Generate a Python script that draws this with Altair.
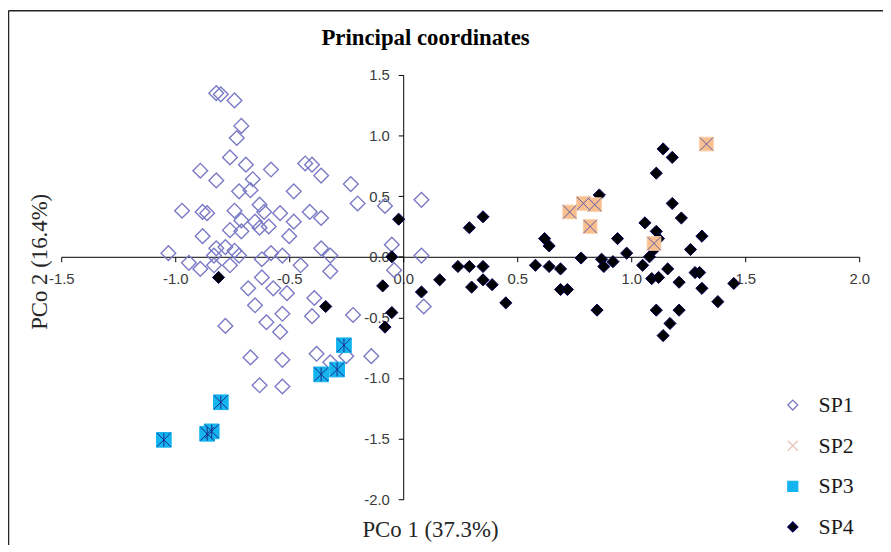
import altair as alt
import pandas as pd

# ---------------- data ----------------
SERIES = ["SP1", "SP2", "SP3", "SP4"]

SP1_X = [-0.82, -0.80, -0.74, -0.71, -0.73, -0.76, -0.69, -0.89, -0.82, -0.58,
         -0.66, -0.72, -0.67, -0.43, -0.40, -0.36, -0.48, -0.23, -0.97, -0.88,
         -0.86, -0.74, -0.71, -0.63, -0.61, -0.54, -0.76, -0.71, -0.65, -0.63,
         -0.59, -0.48, -0.50, -0.88, -0.41, -0.36, -0.36, -0.32, -1.03, -0.82,
         -0.78, -0.74, -0.83, -0.72, -0.94, -0.89, -0.83, -0.76, -0.62, -0.58,
         -0.53, -0.62, -0.68, -0.57, -0.51, -0.65, -0.53, -0.60, -0.78, -0.54,
         -0.39, -0.40, -0.22, -0.32, -0.45, -0.67, -0.53, -0.38, -0.32, -0.25,
         -0.14, -0.63, -0.53, -0.05, 0.08, 0.08, 0.09, -0.08, -0.20, -0.04]
SP1_Y = [1.35, 1.34, 1.29, 1.08, 0.98, 0.82, 0.76, 0.71, 0.63, 0.72,
         0.64, 0.54, 0.55, 0.77, 0.76, 0.67, 0.54, 0.60, 0.38, 0.37,
         0.36, 0.38, 0.30, 0.43, 0.37, 0.36, 0.22, 0.21, 0.29, 0.24,
         0.25, 0.29, 0.17, 0.17, 0.37, 0.32, 0.07, 0.01, 0.03, 0.07,
         0.08, 0.05, 0.01, 0.01, -0.05, -0.10, -0.07, -0.07, -0.02, 0.03,
         0.01, -0.17, -0.26, -0.26, -0.30, -0.40, -0.47, -0.54, -0.57, -0.62,
         -0.34, -0.49, -0.48, -0.12, -0.07, -0.83, -0.85, -0.80, -0.87, -0.82,
         -0.82, -1.06, -1.07, 0.10, 0.01, 0.47, -0.41, 0.42, 0.44, -0.11]

SP2_X = [0.73, 0.79, 0.84, 0.82, 1.10, 1.33]
SP2_Y = [0.37, 0.44, 0.43, 0.25, 0.11, 0.93]

SP3_X = [-1.05, -0.86, -0.84, -0.80, -0.36, -0.29, -0.26]
SP3_Y = [-1.51, -1.46, -1.44, -1.20, -0.97, -0.93, -0.73]

SP4_X = [-0.81, -0.34, -0.02, -0.05, -0.09, -0.05, -0.08, 0.08, 0.16, 0.24,
         0.29, 0.35, 0.30, 0.35, 0.39, 0.45, 0.29, 0.35, 0.58, 0.62,
         0.64, 0.64, 0.69, 0.69, 0.72, 0.78, 0.86, 0.87, 0.88, 0.85,
         0.92, 0.94, 0.98, 1.05, 1.06, 1.08, 1.11, 1.14, 1.18, 1.11,
         1.12, 1.10, 1.09, 1.12, 1.16, 1.18, 1.22, 1.21, 1.11, 1.21,
         1.17, 1.14, 1.26, 1.31, 1.28, 1.30, 1.31, 1.38, 1.45]
SP4_Y = [-0.17, -0.41, 0.31, 0.00, -0.24, -0.46, -0.58, -0.29, -0.19, -0.08,
         -0.08, -0.08, -0.25, -0.19, -0.23, -0.38, 0.24, 0.33, -0.07, 0.15,
         0.09, -0.08, -0.10, -0.27, -0.27, -0.01, 0.51, -0.02, -0.08, -0.44,
         -0.04, 0.15, 0.03, -0.07, 0.28, 0.00, 0.69, 0.89, 0.82, 0.21,
         0.15, 0.06, -0.18, -0.17, -0.10, 0.44, 0.32, -0.21, -0.44, -0.44,
         -0.55, -0.65, 0.06, 0.17, -0.13, -0.13, -0.26, -0.37, -0.22]

X_TICKS = [-1.5, -1.0, -0.5, 0.0, 0.5, 1.0, 1.5, 2.0]
Y_TICKS = [-2.0, -1.5, -1.0, -0.5, 0.0, 0.5, 1.0, 1.5]

TITLE = "Principal coordinates"
X_TITLE = "PCo 1 (37.3%)"
Y_TITLE = "PCo 2 (16.4%)"

assert len(SP1_X) == len(SP1_Y)
assert len(SP2_X) == len(SP2_Y)
assert len(SP3_X) == len(SP3_Y)
assert len(SP4_X) == len(SP4_Y)

rows = []
for name, xs_, ys_ in zip(SERIES, [SP1_X, SP2_X, SP3_X, SP4_X], [SP1_Y, SP2_Y, SP3_Y, SP4_Y]):
    for xv, yv in zip(xs_, ys_):
        rows.append({"series": name, "x": xv, "y": yv})
df = pd.DataFrame(rows)

# ---------------- layout ----------------
W, H = 805, 428
X_DOM = [-1.5, 2.0]
Y_DOM = [-2.0, 1.5]
X0 = W * (0 - X_DOM[0]) / (X_DOM[1] - X_DOM[0])      # pixel of x = 0
Y0 = H * (Y_DOM[1] - 0) / (Y_DOM[1] - Y_DOM[0])      # pixel of y = 0

LABEL_EXPR = "replace(format(datum.value, '.1f'), '\u2212', '-')"

x_axis = alt.Axis(
    values=X_TICKS, offset=-(H - Y0), labelExpr=LABEL_EXPR, grid=False,
    tickSize=5, tickColor="black", domainColor="black", domainWidth=1, tickWidth=1,
    labelPadding=10, labelFont="Liberation Sans", labelFontSize=15, labelColor="#3a3a3a",
    labelFlush=False, labelOverlap=False, labelBound=False,
    title=X_TITLE, titleFont="Liberation Serif", titleFontSize=23, titleFontWeight="normal",
    titleColor="#262626", titleX=372, titleY=282, titleAlign="center", titleBaseline="alphabetic",
)
y_axis = alt.Axis(
    values=Y_TICKS, offset=-X0, labelExpr=LABEL_EXPR, grid=False,
    tickSize=5, tickColor="black", domainColor="black", domainWidth=1, tickWidth=1,
    labelPadding=9, labelFont="Liberation Sans", labelFontSize=15, labelColor="#3a3a3a",
    labelFlush=False, labelOverlap=False, labelBound=False,
    title=Y_TITLE, titleFont="Liberation Serif", titleFontSize=23, titleFontWeight="normal",
    titleColor="#262626", titleX=-360, titleY=188, titleAngle=270, titleAlign="center",
    titleBaseline="alphabetic",
)

xs = alt.Scale(domain=X_DOM, nice=False, zero=False)
ys = alt.Scale(domain=Y_DOM, nice=False, zero=False)
x_enc = alt.X("x:Q", scale=xs, axis=x_axis)
y_enc = alt.Y("y:Q", scale=ys, axis=y_axis)

XPATH = "M-1,-1L1,1M-1,1L1,-1"
STARPATH = "M-1,-1L1,1M-1,1L1,-1M0,-1L0,1"

legend = alt.Legend(
    orient="none", legendX=727, legendY=322, title=None, padding=0,
    symbolSize=100, symbolStrokeWidth=1.3, labelFont="Liberation Serif", labelFontSize=22,
    labelColor="#1a1a1a", rowPadding=19, labelOffset=15,
)

main = alt.Chart(df).mark_point(opacity=1).encode(
    x=x_enc,
    y=y_enc,
    shape=alt.Shape("series:N", scale=alt.Scale(domain=SERIES, range=["diamond", XPATH, "square", "diamond"]), legend=legend),
    fill=alt.Fill("series:N", scale=alt.Scale(domain=SERIES, range=["transparent", "transparent", "#14b4ef", "#000000"]), legend=legend),
    stroke=alt.Stroke("series:N", scale=alt.Scale(domain=SERIES, range=["#7a7ac6", "#e8c2b4", "#14b4ef", "#00005a"]), legend=legend),
    size=alt.condition(alt.datum.series == "SP4", alt.value(150), alt.value(220)),
    strokeWidth=alt.condition(alt.datum.series == "SP1", alt.value(1.4), alt.value(1.0)),
)

sp2_sq = alt.Chart(df).transform_filter(alt.datum.series == "SP2").mark_point(
    shape="square", filled=True, fill="#f9bf8f", stroke="#f9cfa8", strokeWidth=1, size=190, opacity=1
).encode(x=x_enc, y=y_enc)
sp2_x = alt.Chart(df).transform_filter(alt.datum.series == "SP2").mark_point(
    shape=XPATH, filled=False, stroke="#5c5ca6", strokeWidth=1, size=170, opacity=1
).encode(x=x_enc, y=y_enc)
sp3_star = alt.Chart(df).transform_filter(alt.datum.series == "SP3").mark_point(
    shape=STARPATH, filled=False, stroke="#1a2a8a", strokeWidth=1, size=190, opacity=1
).encode(x=x_enc, y=y_enc)

one = pd.DataFrame({"k": [0]})
frame_left = alt.Chart(one).mark_rule(color="#222222", strokeWidth=1.5).encode(
    x=alt.value(-53.2), y=alt.value(-64.7), y2=alt.value(H + 60)
)
frame_top = alt.Chart(one).mark_rule(color="#222222", strokeWidth=1.5).encode(
    x=alt.value(-53.2), x2=alt.value(W + 40), y=alt.value(-64.7)
)

chart = alt.layer(main, sp2_sq, sp2_x, sp3_star, frame_left, frame_top).properties(
    width=W, height=H,
    title=alt.TitleParams(TITLE, font="Liberation Serif", fontSize=23, fontWeight="bold",
                          color="black", anchor="middle", frame="group", dx=-35,
                          offset=-58, baseline="alphabetic"),
    autosize=alt.AutoSizeParams(type="none"),
    padding={"left": 53.7, "top": 65.2, "right": 24, "bottom": 44},
    background="white",
).configure_view(stroke=None)

chart.save("out.html", embed_options={"renderer": "svg", "actions": False})
